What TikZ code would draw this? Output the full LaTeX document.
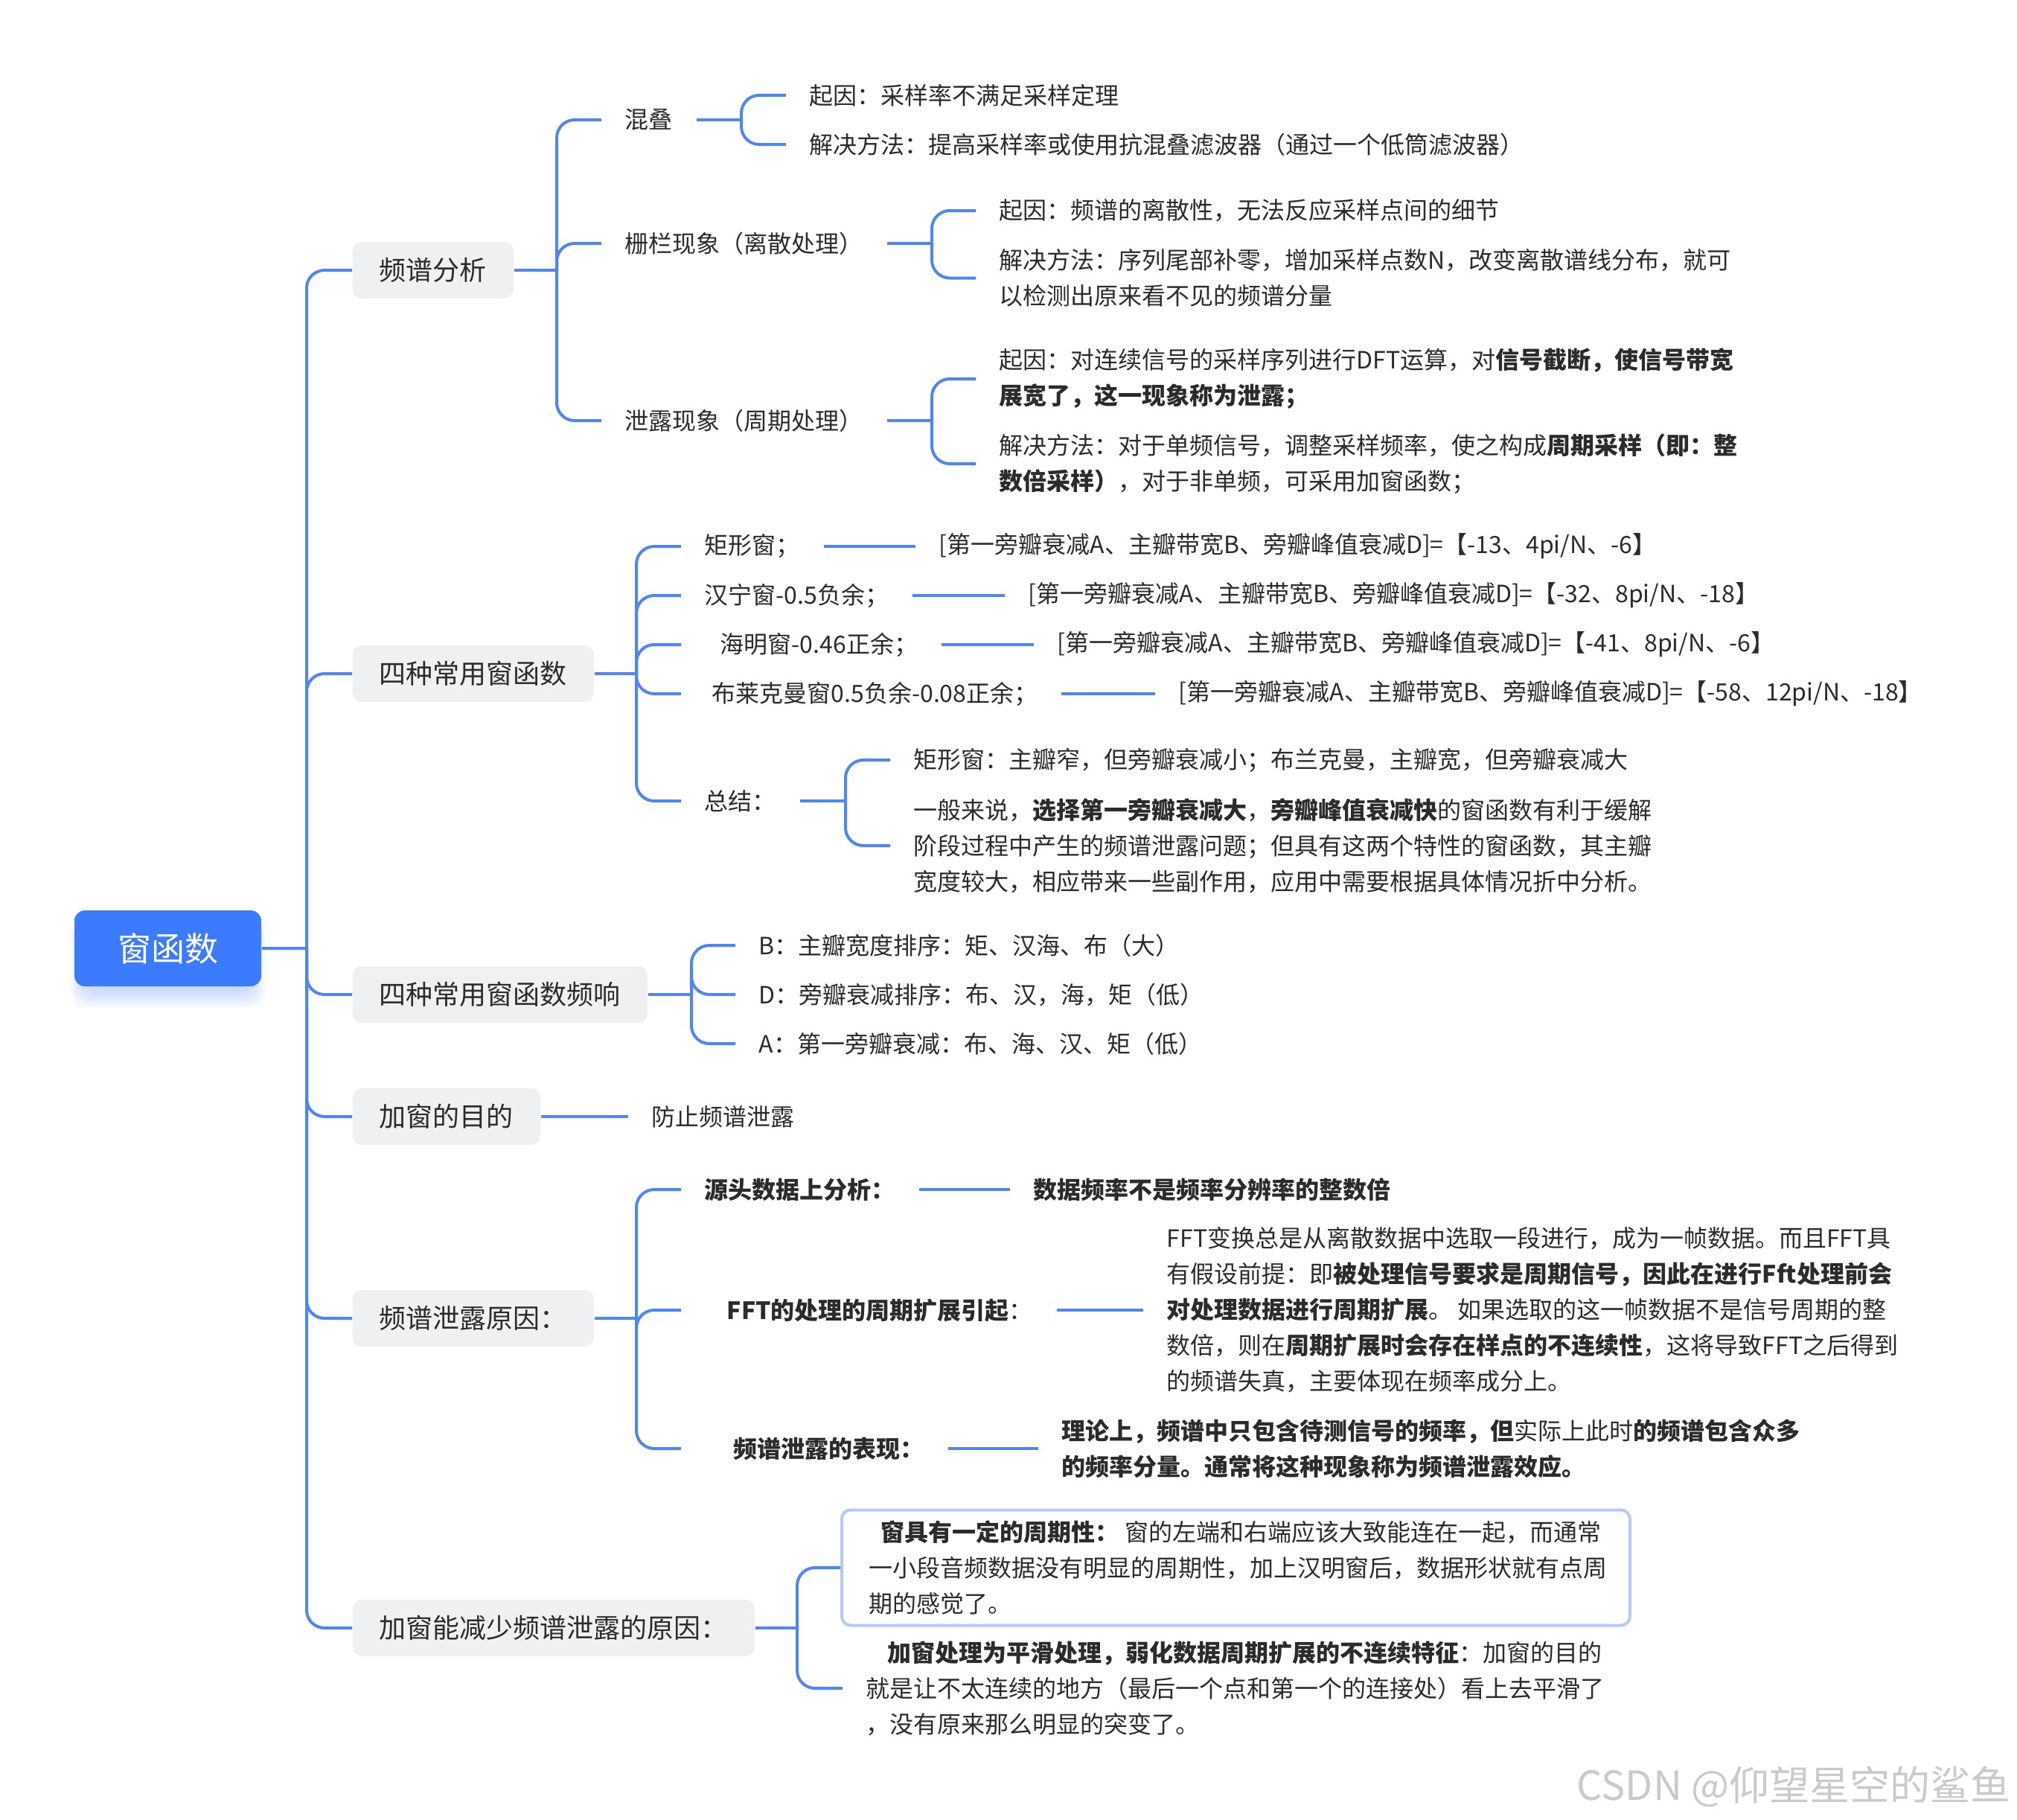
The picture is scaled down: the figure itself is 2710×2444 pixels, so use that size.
\documentclass[tikz,border=0pt]{standalone}
\usepackage{fontspec}
\setmainfont{Noto Sans CJK SC}
\definecolor{linec}{HTML}{4F86F7}
\definecolor{rootc}{HTML}{3B7BFF}
\definecolor{boxc}{HTML}{EFF0F2}
\definecolor{txtc}{HTML}{2B2B2B}
\definecolor{bordc}{HTML}{B6C9FA}
\definecolor{wmc}{HTML}{CACACA}
\begin{document}
\begin{tikzpicture}[x=0.25pt,y=-0.25pt,
  conn/.style={draw=linec,line width=1pt,rounded corners=6pt},
  lvlbox/.style={anchor=west,fill=boxc,rounded corners=3pt,inner xsep=9pt,inner ysep=0pt,minimum height=19pt,font=\fontsize{9pt}{11pt}\selectfont,text=txtc},
  rootbox/.style={fill=rootc,text=white,rounded corners=3.5pt,minimum width=62.75pt,minimum height=25.5pt,inner sep=0pt,font=\fontsize{11.25pt}{13pt}\selectfont},
  txt/.style={anchor=west,inner xsep=7.75pt,inner ysep=0pt,align=left,font=\fontsize{8pt}{12pt}\selectfont,text=txtc},
  framedtxt/.style={anchor=west,draw=bordc,line width=1pt,fill=white,rounded corners=3pt,inner xsep=9pt,inner ysep=0pt,text width=246.75pt,minimum height=38.75pt,align=left,font=\fontsize{8pt}{12pt}\selectfont,text=txtc}]
\useasboundingbox (0,0) rectangle (2710,2444);
\fill[white] (0,0) rectangle (2710,2444);

% root shadow
\foreach \k in {0,...,5}{
  \fill[rootc,opacity=0.045,rounded corners=5pt] (110-3*\k,1245-2*\k) rectangle (341+3*\k,1334+4*\k);
}
\node[rootbox] (root) at (225.5,1274) {窗函数};

% level 1
\node[lvlbox] (A) at (473,363) {频谱分析};
\node[lvlbox] (B) at (473,905) {四种常用窗函数};
\node[lvlbox] (C) at (473,1336) {四种常用窗函数频响};
\node[lvlbox] (D) at (473,1500) {加窗的目的};
\node[lvlbox] (E) at (473,1771) {频谱泄露原因：};
\node[lvlbox] (F) at (473,2187) {加窗能减少频谱泄露的原因：};

\coordinate (j0) at (412,1274);
\draw[conn] (root.east) -- (j0);
\foreach \n in {A,B,C,D,E,F}{\draw[conn] (j0) |- (\n.west);}

% ---- A: 频谱分析
\node[txt] (A1) at (808,161) {混叠};
\node[txt] (A2) at (808,327) {栅栏现象（离散处理）};
\node[txt] (A3) at (808,565) {泄露现象（周期处理）};
\coordinate (jA) at (748,363);
\draw[conn] (A.east) -- (jA);
\foreach \n in {A1,A2,A3}{\draw[conn] (jA) |- (\n.west);}

\node[txt] (A1a) at (1056,128) {起因：采样率不满足采样定理};
\node[txt] (A1b) at (1056,194) {解决方法：提高采样率或使用抗混叠滤波器（通过一个低筒滤波器）};
\coordinate (jA1) at (996,161);
\draw[conn] (A1.east) -- (jA1);
\foreach \n in {A1a,A1b}{\draw[conn] (jA1) |- (\n.west);}

\node[txt] (A2a) at (1311,283) {起因：频谱的离散性，无法反应采样点间的细节};
\node[txt] (A2b) at (1311,373.5) {解决方法：序列尾部补零，增加采样点数N，改变离散谱线分布，就可\\以检测出原来看不见的频谱分量};
\coordinate (jA2) at (1252,327);
\draw[conn] (A2.east) -- (jA2);
\foreach \n in {A2a,A2b}{\draw[conn] (jA2) |- (\n.west);}

\node[txt] (A3a) at (1311,509) {起因：对连续信号的采样序列进行DFT运算，对\textbf{信号截断，使信号带宽}\\\textbf{展宽了，这一现象称为泄露；}};
\node[txt] (A3b) at (1311,623) {解决方法：对于单频信号，调整采样频率，使之构成\textbf{周期采样（即：整}\\\textbf{数倍采样）}，对于非单频，可采用加窗函数；};
\coordinate (jA3) at (1252,565);
\draw[conn] (A3.east) -- (jA3);
\foreach \n in {A3a,A3b}{\draw[conn] (jA3) |- (\n.west);}

% ---- B: 四种常用窗函数
\node[txt] (B1) at (915,734) {矩形窗；};
\node[txt] (B2) at (915,800) {汉宁窗-0.5负余；};
\node[txt] (B3) at (915,866) {\hspace*{5.25pt}海明窗-0.46正余；};
\node[txt] (B4) at (915,932) {\hspace*{2.5pt}布莱克曼窗0.5负余-0.08正余；};
\node[txt] (B5) at (915,1076) {总结：};
\coordinate (jB) at (855,905);
\draw[conn] (B.east) -- (jB);
\foreach \n in {B1,B2,B3,B4,B5}{\draw[conn] (jB) |- (\n.west);}

\node[txt] (B1v) at (1230,734) {[第一旁瓣衰减A、主瓣带宽B、旁瓣峰值衰减D]=【-13、4pi/N、-6】};
\node[txt] (B2v) at (1350,800) {[第一旁瓣衰减A、主瓣带宽B、旁瓣峰值衰减D]=【-32、8pi/N、-18】};
\node[txt] (B3v) at (1389,866) {[第一旁瓣衰减A、主瓣带宽B、旁瓣峰值衰减D]=【-41、8pi/N、-6】};
\node[txt] (B4v) at (1552,932) {[第一旁瓣衰减A、主瓣带宽B、旁瓣峰值衰减D]=【-58、12pi/N、-18】};
\foreach \n in {B1,B2,B3,B4}{\draw[conn] (\n.east) -- (\n v.west);}

\node[txt] (B5a) at (1196,1021) {矩形窗：主瓣窄，但旁瓣衰减小；布兰克曼，主瓣宽，但旁瓣衰减大};
\node[txt] (B5b) at (1196,1136) {一般来说，\textbf{选择第一旁瓣衰减大}，\textbf{旁瓣峰值衰减快}的窗函数有利于缓解\\阶段过程中产生的频谱泄露问题；但具有这两个特性的窗函数，其主瓣\\宽度较大，相应带来一些副作用，应用中需要根据具体情况折中分析。};
\coordinate (jB5) at (1136,1076);
\draw[conn] (B5.east) -- (jB5);
\foreach \n in {B5a,B5b}{\draw[conn] (jB5) |- (\n.west);}

% ---- C: 频响
\node[txt] (C1) at (988,1270) {B：主瓣宽度排序：矩、汉海、布（大）};
\node[txt] (C2) at (988,1336) {D：旁瓣衰减排序：布、汉，海，矩（低）};
\node[txt] (C3) at (988,1402) {A：第一旁瓣衰减：布、海、汉、矩（低）};
\coordinate (jC) at (929,1336);
\draw[conn] (C.east) -- (jC);
\foreach \n in {C1,C2,C3}{\draw[conn] (jC) |- (\n.west);}

% ---- D
\node[txt] (D1) at (844,1500) {防止频谱泄露};
\draw[conn] (D.east) -- (D1.west);

% ---- E: 频谱泄露原因
\node[txt] (E1) at (915,1598) {\textbf{源头数据上分析：}};
\node[txt] (E2) at (915,1760) {\hspace*{7.5pt}\textbf{FFT的处理的周期扩展引起}：};
\node[txt] (E3) at (915,1946) {\hspace*{9.75pt}\textbf{频谱泄露的表现：}};
\coordinate (jE) at (855,1771);
\draw[conn] (E.east) -- (jE);
\foreach \n in {E1,E2,E3}{\draw[conn] (jE) |- (\n.west);}

\node[txt] (E1v) at (1357,1598) {\textbf{数据频率不是频率分辨率的整数倍}};
\node[txt] (E2v) at (1536,1760) {FFT变换总是从离散数据中选取一段进行，成为一帧数据。而且FFT具\\有假设前提：即\textbf{被处理信号要求是周期信号，因此在进行Fft处理前会}\\\textbf{对处理数据进行周期扩展}。 如果选取的这一帧数据不是信号周期的整\\数倍，则在\textbf{周期扩展时会存在样点的不连续性}，这将导致FFT之后得到\\的频谱失真，主要体现在频率成分上。};
\node[txt] (E3v) at (1395,1946) {\textbf{理论上，频谱中只包含待测信号的频率，但}实际上此时\textbf{的频谱包含众多}\\\textbf{的频率分量。通常将这种现象称为频谱泄露效应。}};
\foreach \n in {E1,E2,E3}{\draw[conn] (\n.east) -- (\n v.west);}

% ---- F: 加窗能减少频谱泄露的原因
\node[framedtxt] (F1) at (1129,2106) {\mbox{\hspace*{4pt}\textbf{窗具有一定的周期性：}\hspace{2pt}窗的左端和右端应该大致能连在一起，而通常}\\\mbox{一小段音频数据没有明显的周期性，加上汉明窗后，数据形状就有点周}\\期的感觉了。};
\node[txt] (F2) at (1132,2268) {\hspace*{7.25pt}\textbf{加窗处理为平滑处理，弱化数据周期扩展的不连续特征}：加窗的目的\\就是让不太连续的地方（最后一个点和第一个的连接处）看上去平滑了\\，没有原来那么明显的突变了。};
\coordinate (jF) at (1071,2187);
\draw[conn] (F.east) -- (jF);
\foreach \n in {F1,F2}{\draw[conn] (jF) |- (\n.west);}

% watermark
\node[anchor=east,inner sep=0pt,text=wmc,font=\fontsize{13.5pt}{15pt}\selectfont] (wm) at (2702,2400) {CSDN @仰望星空的鲨鱼};
\end{tikzpicture}
\end{document}
